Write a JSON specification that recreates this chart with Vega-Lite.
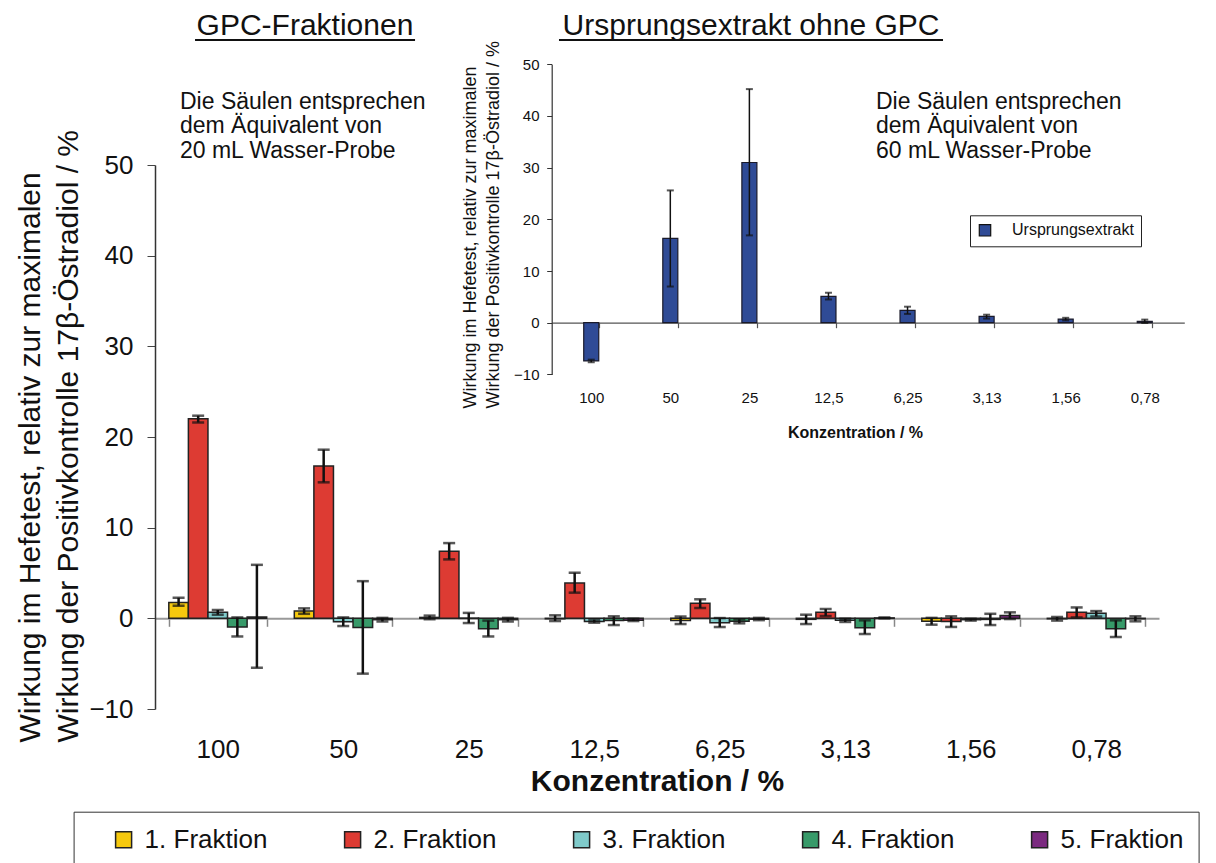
{
  "$schema": "https://vega.github.io/schema/vega-lite/v6.json",
  "width": 1004,
  "height": 544,
  "autosize": {"type": "none"},
  "padding": {"left": 155, "top": 165, "right": 57, "bottom": 154},
  "background": "white",
  "config": {
    "view": {"stroke": null},
    "font": "Liberation Sans",
    "axis": {"labelFont": "Liberation Sans", "titleFont": "Liberation Sans", "grid": false},
    "legend": {"labelFont": "Liberation Sans", "titleFont": "Liberation Sans"}
  },
  "datasets": {
    "gpc": [
      {"konz": "100", "fraktion": "1. Fraktion", "value": 1.76, "lo": 1.39, "hi": 2.27},
      {"konz": "100", "fraktion": "2. Fraktion", "value": 22.0, "lo": 21.6, "hi": 22.35},
      {"konz": "100", "fraktion": "3. Fraktion", "value": 0.66, "lo": 0.4, "hi": 0.92},
      {"konz": "100", "fraktion": "4. Fraktion", "value": -0.96, "lo": -2.0, "hi": 0.1},
      {"konz": "100", "fraktion": "5. Fraktion", "value": 0.15, "lo": -5.45, "hi": 5.9},
      {"konz": "50", "fraktion": "1. Fraktion", "value": 0.8, "lo": 0.5, "hi": 1.1},
      {"konz": "50", "fraktion": "2. Fraktion", "value": 16.8, "lo": 15.0, "hi": 18.6},
      {"konz": "50", "fraktion": "3. Fraktion", "value": -0.37, "lo": -0.85, "hi": 0.1},
      {"konz": "50", "fraktion": "4. Fraktion", "value": -1.0, "lo": -6.1, "hi": 4.1},
      {"konz": "50", "fraktion": "5. Fraktion", "value": -0.15, "lo": -0.35, "hi": 0.05},
      {"konz": "25", "fraktion": "1. Fraktion", "value": 0.1, "lo": -0.1, "hi": 0.3},
      {"konz": "25", "fraktion": "2. Fraktion", "value": 7.4, "lo": 6.5, "hi": 8.3},
      {"konz": "25", "fraktion": "3. Fraktion", "value": 0.03, "lo": -0.52, "hi": 0.6},
      {"konz": "25", "fraktion": "4. Fraktion", "value": -1.15, "lo": -2.0, "hi": -0.25},
      {"konz": "25", "fraktion": "5. Fraktion", "value": -0.15, "lo": -0.35, "hi": 0.05},
      {"konz": "12,5", "fraktion": "1. Fraktion", "value": -0.05, "lo": -0.3, "hi": 0.33},
      {"konz": "12,5", "fraktion": "2. Fraktion", "value": 3.89, "lo": 2.83, "hi": 5.03},
      {"konz": "12,5", "fraktion": "3. Fraktion", "value": -0.35, "lo": -0.48, "hi": -0.15},
      {"konz": "12,5", "fraktion": "4. Fraktion", "value": -0.25, "lo": -0.74, "hi": 0.22},
      {"konz": "12,5", "fraktion": "5. Fraktion", "value": -0.2, "lo": -0.3, "hi": -0.05},
      {"konz": "6,25", "fraktion": "1. Fraktion", "value": -0.25, "lo": -0.63, "hi": 0.2},
      {"konz": "6,25", "fraktion": "2. Fraktion", "value": 1.65, "lo": 1.14, "hi": 2.1},
      {"konz": "6,25", "fraktion": "3. Fraktion", "value": -0.48, "lo": -0.96, "hi": 0.03},
      {"konz": "6,25", "fraktion": "4. Fraktion", "value": -0.33, "lo": -0.55, "hi": -0.1},
      {"konz": "6,25", "fraktion": "5. Fraktion", "value": -0.1, "lo": -0.2, "hi": 0.05},
      {"konz": "3,13", "fraktion": "1. Fraktion", "value": -0.11, "lo": -0.63, "hi": 0.4},
      {"konz": "3,13", "fraktion": "2. Fraktion", "value": 0.66, "lo": 0.25, "hi": 1.03},
      {"konz": "3,13", "fraktion": "3. Fraktion", "value": -0.2, "lo": -0.4, "hi": -0.05},
      {"konz": "3,13", "fraktion": "4. Fraktion", "value": -1.03, "lo": -1.73, "hi": -0.22},
      {"konz": "3,13", "fraktion": "5. Fraktion", "value": 0.05, "lo": 0.0, "hi": 0.1},
      {"konz": "1,56", "fraktion": "1. Fraktion", "value": -0.33, "lo": -0.7, "hi": 0.05},
      {"konz": "1,56", "fraktion": "2. Fraktion", "value": -0.35, "lo": -0.95, "hi": 0.22},
      {"konz": "1,56", "fraktion": "3. Fraktion", "value": -0.15, "lo": -0.25, "hi": -0.05},
      {"konz": "1,56", "fraktion": "4. Fraktion", "value": -0.12, "lo": -0.74, "hi": 0.5},
      {"konz": "1,56", "fraktion": "5. Fraktion", "value": 0.3, "lo": -0.08, "hi": 0.66},
      {"konz": "0,78", "fraktion": "1. Fraktion", "value": -0.05, "lo": -0.25, "hi": 0.15},
      {"konz": "0,78", "fraktion": "2. Fraktion", "value": 0.66, "lo": 0.1, "hi": 1.2},
      {"konz": "0,78", "fraktion": "3. Fraktion", "value": 0.55, "lo": 0.2, "hi": 0.8},
      {"konz": "0,78", "fraktion": "4. Fraktion", "value": -1.15, "lo": -2.06, "hi": -0.22},
      {"konz": "0,78", "fraktion": "5. Fraktion", "value": -0.05, "lo": -0.33, "hi": 0.22}
    ],
    "orig": [
      {"konz": "100", "serie": "Ursprungsextrakt", "value": -7.4, "lo": -7.65, "hi": -7.15},
      {"konz": "50", "serie": "Ursprungsextrakt", "value": 16.3, "lo": 7.0, "hi": 25.6},
      {"konz": "25", "serie": "Ursprungsextrakt", "value": 31.0, "lo": 16.9, "hi": 45.2},
      {"konz": "12,5", "serie": "Ursprungsextrakt", "value": 5.1, "lo": 4.5, "hi": 5.8},
      {"konz": "6,25", "serie": "Ursprungsextrakt", "value": 2.4, "lo": 1.7, "hi": 3.1},
      {"konz": "3,13", "serie": "Ursprungsextrakt", "value": 1.24, "lo": 0.8, "hi": 1.55},
      {"konz": "1,56", "serie": "Ursprungsextrakt", "value": 0.7, "lo": 0.45, "hi": 0.95},
      {"konz": "0,78", "serie": "Ursprungsextrakt", "value": 0.25, "lo": -0.05, "hi": 0.6}
    ],
    "titles": [
      {"label": "GPC-Fraktionen", "px": 1.195, "py": 64.34},
      {"label": "Ursprungsextrakt ohne GPC", "px": 4.749, "py": 64.34}
    ],
    "underlines": [
      {"px": 0.319, "px2": 2.072, "py": 63.79},
      {"px": 3.219, "px2": 6.279, "py": 63.79}
    ],
    "notes": [
      {"label": "Die Säulen entsprechen", "px": 0.199, "py": 56.23},
      {"label": "dem Äquivalent von", "px": 0.199, "py": 53.5},
      {"label": "20 mL Wasser-Probe", "px": 0.199, "py": 50.74},
      {"label": "Die Säulen entsprechen", "px": 5.745, "py": 56.23},
      {"label": "dem Äquivalent von", "px": 5.745, "py": 53.5},
      {"label": "60 mL Wasser-Probe", "px": 5.745, "py": 50.74}
    ]
  },
  "layer": [
    {
      "data": {"name": "gpc"},
      "layer": [
        {
          "mark": {"type": "bar", "stroke": "#222222", "strokeWidth": 1.5},
          "encoding": {
            "x": {
              "field": "konz", "type": "nominal",
              "scale": {"domain": ["100", "50", "25", "12,5", "6,25", "3,13", "1,56", "0,78"], "paddingInner": 0.22, "paddingOuter": 0.11},
              "axis": {
                "orient": "bottom", "offset": -90.7, "labelAngle": 0,
                "labelFontSize": 26, "labelColor": "#111111", "labelPadding": 110,
                "domainColor": "#999999", "domainWidth": 2,
                "ticks": true, "tickBand": "extent", "tickSize": 8, "tickColor": "#888888", "tickWidth": 1.5,
                "title": "Konzentration / %", "titleFontSize": 30, "titleFontWeight": "bold", "titleColor": "#111111", "titlePadding": 4
              }
            },
            "xOffset": {
              "field": "fraktion", "type": "nominal",
              "scale": {"domain": ["1. Fraktion", "2. Fraktion", "3. Fraktion", "4. Fraktion", "5. Fraktion"], "paddingInner": 0, "paddingOuter": 0}
            },
            "y": {
              "field": "value", "type": "quantitative",
              "scale": {"domain": [-10, 50], "nice": false, "zero": false},
              "axis": {
                "orient": "left", "values": [-10, 0, 10, 20, 30, 40, 50],
                "labelFontSize": 26, "labelColor": "#111111", "labelPadding": 14,
                "tickSize": 8, "tickColor": "#444444", "domainColor": "#333333", "domainWidth": 1.5,
                "title": ["Wirkung im Hefetest, relativ zur maximalen", "Wirkung der Positivkontrolle 17β-Östradiol / %"],
                "titleFontSize": 30, "titleFontWeight": "normal", "titleColor": "#111111",
                "titleAngle": 270, "titleAlign": "left", "titleBaseline": "bottom", "titleLineHeight": 38,
                "titleX": -110, "titleY": 577
              }
            },
            "color": {
              "field": "fraktion", "type": "nominal",
              "scale": {"domain": ["1. Fraktion", "2. Fraktion", "3. Fraktion", "4. Fraktion", "5. Fraktion"], "range": ["#F6C90E", "#DD3B33", "#80CBCB", "#379A69", "#7B2A80"]},
              "legend": {
                "orient": "none", "legendX": -81.4, "legendY": 646.7, "direction": "horizontal", "columns": 5,
                "title": "\u2003", "titleOrient": "left", "titleFontSize": 26, "titlePadding": 22,
                "padding": 15, "strokeColor": "#333333", "fillColor": "white",
                "symbolType": "square", "symbolSize": 256, "symbolStrokeColor": "#222222", "symbolStrokeWidth": 1.5,
                "labelFontSize": 26, "labelColor": "#111111", "labelOffset": 8, "columnPadding": 72
              }
            }
          }
        },
        {
          "mark": {"type": "rule", "color": "#111111", "strokeWidth": 2.5},
          "encoding": {
            "x": {"field": "konz", "type": "nominal"},
            "xOffset": {"field": "fraktion", "type": "nominal"},
            "y": {"field": "lo", "type": "quantitative"},
            "y2": {"field": "hi"}
          }
        },
        {
          "mark": {"type": "tick", "color": "#111111", "thickness": 2.5, "size": 12, "orient": "horizontal"},
          "encoding": {
            "x": {"field": "konz", "type": "nominal"},
            "xOffset": {"field": "fraktion", "type": "nominal"},
            "y": {"field": "lo", "type": "quantitative"}
          }
        },
        {
          "mark": {"type": "tick", "color": "#111111", "thickness": 2.5, "size": 12, "orient": "horizontal"},
          "encoding": {
            "x": {"field": "konz", "type": "nominal"},
            "xOffset": {"field": "fraktion", "type": "nominal"},
            "y": {"field": "hi", "type": "quantitative"}
          }
        }
      ]
    },
    {
      "data": {"name": "orig"},
      "layer": [
        {
          "mark": {"type": "bar", "stroke": "#1a1a2a", "strokeWidth": 1.2},
          "encoding": {
            "x": {
              "field": "konz", "type": "nominal",
              "scale": {"domain": ["100", "50", "25", "12,5", "6,25", "3,13", "1,56", "0,78"], "range": [396.7, 1029.3], "paddingInner": 0.81, "paddingOuter": 0.405},
              "axis": {
                "orient": "bottom", "offset": -386.3, "labelAngle": 0,
                "labelFontSize": 15, "labelColor": "#111111", "labelPadding": 62.5,
                "domainColor": "#555555", "domainWidth": 1.2,
                "ticks": true, "tickBand": "extent", "tickSize": 5, "tickColor": "#555555", "tickWidth": 1.2,
                "title": "Konzentration / %", "titleFontSize": 16, "titleFontWeight": "bold", "titleColor": "#111111", "titlePadding": 19, "titleX": 700
              }
            },
            "y": {
              "field": "value", "type": "quantitative",
              "scale": {"domain": [-10, 50], "range": [209.4, -100.7], "nice": false, "zero": false},
              "axis": {
                "orient": "left", "offset": -396.7, "values": [-10, 0, 10, 20, 30, 40, 50],
                "labelFontSize": 15, "labelColor": "#111111", "labelPadding": 7.7,
                "tickSize": 5, "tickColor": "#333333", "domainColor": "#333333", "domainWidth": 1.2,
                "title": ["Wirkung im Hefetest, relativ zur maximalen", "Wirkung der Positivkontrolle 17β-Östradiol / %"],
                "titleFontSize": 18, "titleFontWeight": "normal", "titleColor": "#111111",
                "titleAngle": 270, "titleAlign": "left", "titleBaseline": "bottom", "titleLineHeight": 22.5,
                "titleX": -72, "titleY": 243
              }
            },
            "color": {
              "field": "serie", "type": "nominal",
              "scale": {"domain": ["Ursprungsextrakt"], "range": ["#2F4B96"]},
              "legend": {
                "orient": "none", "legendX": 815, "legendY": 50.3,
                "title": "\u2003", "titleOrient": "left", "titleFontSize": 5, "titlePadding": 0,
                "padding": 7, "strokeColor": "#222222", "fillColor": "white",
                "symbolType": "square", "symbolSize": 130, "symbolStrokeColor": "#111111", "symbolStrokeWidth": 1.2,
                "labelFontSize": 16, "labelColor": "#111111", "labelOffset": 19
              }
            }
          }
        },
        {
          "mark": {"type": "rule", "color": "#111111", "strokeWidth": 1.5},
          "encoding": {
            "x": {"field": "konz", "type": "nominal"},
            "y": {"field": "lo", "type": "quantitative"},
            "y2": {"field": "hi"}
          }
        },
        {
          "mark": {"type": "tick", "color": "#111111", "thickness": 2, "size": 7, "orient": "horizontal"},
          "encoding": {
            "x": {"field": "konz", "type": "nominal"},
            "y": {"field": "lo", "type": "quantitative"}
          }
        },
        {
          "mark": {"type": "tick", "color": "#111111", "thickness": 2, "size": 7, "orient": "horizontal"},
          "encoding": {
            "x": {"field": "konz", "type": "nominal"},
            "y": {"field": "hi", "type": "quantitative"}
          }
        }
      ]
    },
    {
      "layer": [
        {
          "data": {"name": "titles"},
          "mark": {"type": "text", "align": "center", "baseline": "alphabetic", "fontSize": 30, "font": "Liberation Sans", "color": "#111111"},
          "encoding": {
            "x": {"field": "px", "type": "quantitative", "scale": {"domain": [0, 8], "nice": false, "zero": false}, "axis": null},
            "y": {"field": "py", "type": "quantitative", "scale": {"domain": [-10, 50], "nice": false, "zero": false}, "axis": null},
            "text": {"field": "label"}
          }
        },
        {
          "data": {"name": "underlines"},
          "mark": {"type": "rule", "color": "#111111", "strokeWidth": 2},
          "encoding": {
            "x": {"field": "px", "type": "quantitative", "axis": null},
            "x2": {"field": "px2"},
            "y": {"field": "py", "type": "quantitative", "axis": null}
          }
        },
        {
          "data": {"name": "notes"},
          "mark": {"type": "text", "align": "left", "baseline": "alphabetic", "fontSize": 23, "font": "Liberation Sans", "color": "#111111"},
          "encoding": {
            "x": {"field": "px", "type": "quantitative", "axis": null},
            "y": {"field": "py", "type": "quantitative", "axis": null},
            "text": {"field": "label"}
          }
        }
      ]
    }
  ],
  "resolve": {"scale": {"x": "independent", "y": "independent", "color": "independent", "xOffset": "independent"}}
}
